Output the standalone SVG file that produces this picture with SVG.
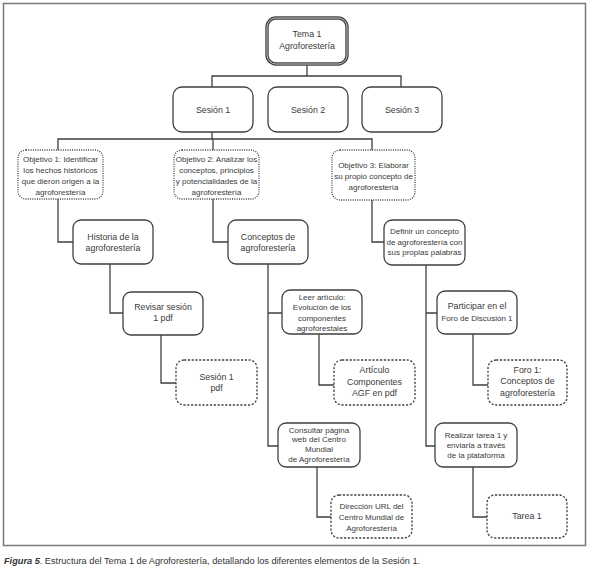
<svg xmlns="http://www.w3.org/2000/svg" width="590" height="579" viewBox="0 0 590 579">
<style>
text{font-family:"Liberation Sans",Arial,sans-serif;fill:#3a3a3a;text-anchor:middle;font-size:8px}
.big{font-size:8.8px}
.box{fill:#fff;stroke:#3f3f3f;stroke-width:1.3}
.dot{fill:#fff;stroke:#3f3f3f;stroke-width:1.3;stroke-dasharray:1 1.3}
.dash{fill:#fff;stroke:#3f3f3f;stroke-width:1.3;stroke-dasharray:2.2 1.6}
.conn path{fill:none;stroke:#3f3f3f;stroke-width:1.3}
.cap{text-anchor:start;font-size:9.2px;fill:#333}
</style>
<rect x="3.5" y="3.5" width="582" height="542" fill="#fff" stroke="#7a7a7a" stroke-width="1.5"/>
<g class="conn">
<path d="M307 64V76M212 87V76H401V87"/>
<path d="M212 132V139M58 150V139H372V150M213 139V150"/>
<path d="M58 199V242H73M213 199V242H228M372 200V242H384"/>
<path d="M110 264V313H123M268 264V446H278M268 313H282M426 265V446H435M426 313H437"/>
<path d="M161 335V383H176M319 334V385H334M473 334V385H488"/>
<path d="M317 467V517H331M473 467V517H487"/>
</g>
<g id="tema">
<rect x="267" y="18" width="80" height="46" rx="9" fill="#fff" stroke="#444" stroke-width="3.4"/>
<rect x="267" y="18" width="80" height="46" rx="9" fill="none" stroke="#bdbdbd" stroke-width="1"/>
<text class="big" x="307" y="37">Tema 1</text>
<text class="big" x="307" y="49">Agroforestería</text>
</g>
<g id="sesion1"><rect class="box" x="173" y="87" width="80" height="45" rx="9"/><text class="big" x="213" y="113">Sesión 1</text></g>
<g id="sesion2"><rect class="box" x="268" y="87" width="80" height="45" rx="9"/><text class="big" x="308" y="113">Sesión 2</text></g>
<g id="sesion3"><rect class="box" x="362" y="87" width="80" height="45" rx="9"/><text class="big" x="402" y="113">Sesión 3</text></g>
<g id="obj1"><rect class="dot" x="18" y="150" width="85" height="49" rx="8"/>
<text x="60.5" y="162">Objetivo 1: Identificar</text><text x="60.5" y="173">los hechos históricos</text><text x="60.5" y="184">que dieron origen a la</text><text x="60.5" y="195">agroforestería</text></g>
<g id="obj2"><rect class="dot" x="174" y="150" width="85" height="49" rx="8"/>
<text x="216.5" y="162">Objetivo 2: Analizar los</text><text x="216.5" y="173">conceptos, principios</text><text x="216.5" y="184">y potencialidades de la</text><text x="216.5" y="195">agroforestería</text></g>
<g id="obj3"><rect class="dot" x="332" y="150" width="83" height="50" rx="8"/>
<text x="373.5" y="168">Objetivo 3: Elaborar</text><text x="373.5" y="179">su propio concepto de</text><text x="373.5" y="190">agroforestería</text></g>
<g id="historia"><rect class="box" x="73" y="220" width="80" height="44" rx="8"/>
<text class="big" x="113" y="240">Historia de la</text><text class="big" x="113" y="251">agroforestería</text></g>
<g id="conceptos"><rect class="box" x="228" y="220" width="80" height="44" rx="8"/>
<text class="big" x="268" y="240">Conceptos de</text><text class="big" x="268" y="251">agroforestería</text></g>
<g id="definir"><rect class="box" x="384" y="220" width="81" height="45" rx="8"/>
<text x="424.5" y="234">Definir un concepto</text><text x="424.5" y="244.5">de agroforestería con</text><text x="424.5" y="255">sus propias palabras</text></g>
<g id="revisar"><rect class="box" x="123" y="292" width="80" height="43" rx="8"/>
<text class="big" x="163" y="310">Revisar sesión</text><text class="big" x="163" y="321">1 pdf</text></g>
<g id="leer"><rect class="box" x="282" y="290" width="80" height="44" rx="8"/>
<text x="322" y="300">Leer artículo:</text><text x="322" y="310">Evolución de los</text><text x="322" y="320.5">componentes</text><text x="322" y="330.5">agroforestales</text></g>
<g id="participar"><rect class="box" x="437" y="291" width="80" height="43" rx="8"/>
<text class="big" x="477" y="309">Participar en el</text><text x="477" y="321" font-size="8.4">Foro de Discusión 1</text></g>
<g id="sesion1pdf"><rect class="dash" x="176" y="360" width="81" height="45" rx="8"/>
<text class="big" x="216.5" y="380">Sesión 1</text><text class="big" x="216.5" y="391">pdf</text></g>
<g id="articulo"><rect class="dash" x="334" y="360" width="81" height="45" rx="8"/>
<text class="big" x="374.5" y="373">Artículo</text><text class="big" x="374.5" y="385">Componentes</text><text class="big" x="374.5" y="396">AGF en pdf</text></g>
<g id="foro"><rect class="dash" x="488" y="360" width="79" height="45" rx="8"/>
<text class="big" x="527.5" y="373">Foro 1:</text><text class="big" x="527.5" y="384">Conceptos de</text><text class="big" x="527.5" y="396">agroforestería</text></g>
<g id="consultar"><rect class="box" x="278" y="423" width="82" height="44" rx="8"/>
<text x="319" y="433">Consultar página</text><text x="319" y="442">web del Centro</text><text x="319" y="451.5">Mundial</text><text x="319" y="462">de Agroforestería</text></g>
<g id="realizar"><rect class="box" x="435" y="423" width="82" height="44" rx="8"/>
<text x="476" y="438">Realizar tarea 1 y</text><text x="476" y="448">enviarla a través</text><text x="476" y="458">de la plataforma</text></g>
<g id="direccion"><rect class="dash" x="331" y="495" width="81" height="43" rx="8"/>
<text x="371.5" y="509">Dirección URL del</text><text x="371.5" y="520">Centro Mundial de</text><text x="371.5" y="530.5">Agroforestería</text></g>
<g id="tarea"><rect class="dash" x="487" y="495" width="80" height="43" rx="8"/>
<text class="big" x="527" y="519">Tarea  1</text></g>
<text class="cap" x="4" y="564"><tspan font-weight="bold" font-style="italic">Figura 5</tspan>. Estructura del Tema 1 de Agroforestería, detallando los diferentes elementos de la Sesión 1.</text>
</svg>
